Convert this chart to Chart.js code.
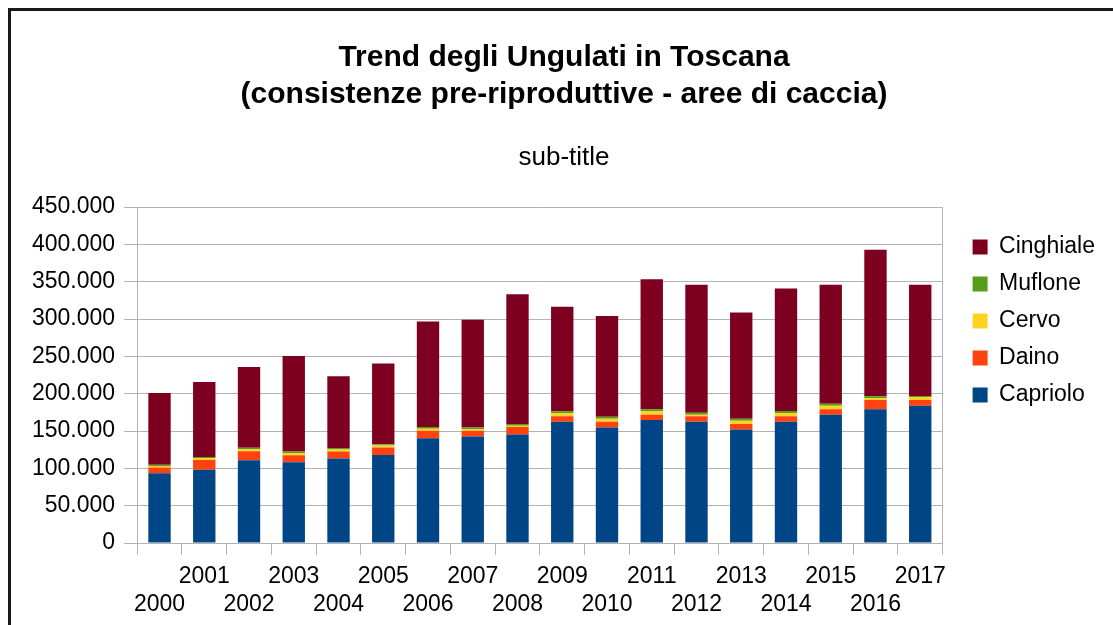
<!DOCTYPE html>
<html>
<head>
<meta charset="utf-8">
<script src="https://cdn.jsdelivr.net/npm/chart.js@4.4.1/dist/chart.umd.min.js"></script>
<style>
  html, body { margin: 0; padding: 0; background: #fff; }
  #wrap { position: relative; width: 1113px; height: 625px; }
  #frame {
    position: absolute; left: 8px; top: 8px; width: 1200px; height: 700px;
    border-top: 3px solid #1a1a1a; border-left: 3px solid #1a1a1a;
    pointer-events: none;
  }
</style>
</head>
<body>
<div id="wrap">
  <canvas id="chart" width="1113" height="625"></canvas>
  <div id="frame"></div>
</div>
<script>
// Years on the x axis
const years = ['2000', '2001', '2002', '2003', '2004', '2005', '2006', '2007', '2008',
  '2009', '2010', '2011', '2012', '2013', '2014', '2015', '2016', '2017'];

// Pre-reproductive counts per species
const capriolo = [93400, 98300, 110900, 108200, 113100, 118000, 140500, 142700, 145400,
  162500, 154800, 164700, 162500, 152100, 162500, 171900, 179100, 184000];
const daino = [7600, 13000, 12100, 9400, 9400, 9900, 9900, 7600, 9900,
  7200, 7600, 7200, 7200, 7200, 7200, 7200, 12600, 7600];
const cervo = [2200, 2200, 2700, 3100, 2700, 2700, 2700, 2200, 1800,
  4000, 4000, 4500, 2200, 4500, 4000, 4900, 2200, 3600];
const muflone = [1500, 1800, 1800, 1800, 2200, 1800, 2200, 2200, 2200,
  2700, 2700, 2700, 2700, 2700, 3100, 2700, 2700, 1800];
const cinghiale = [96300, 100500, 108200, 127900, 96000, 108200, 141400, 144500, 174100,
  140000, 135100, 174100, 171400, 142300, 164300, 159300, 196100, 149000];

// y axis ticks
const yTicks = [0, 50000, 100000, 150000, 200000, 250000, 300000, 350000, 400000, 450000];

const gridColor = '#b3b3b3';
const fontFamily = '"Liberation Sans", Arial, sans-serif';

// Italian thousands separator
const fmt = v => String(v).replace(/\B(?=(\d{3})+(?!\d))/g, '.');

const makeSet = (label, data, color) => ({
  label: label,
  data: data,
  backgroundColor: color,
  borderWidth: 0,
  barPercentage: 0.5,
  categoryPercentage: 1,
  stack: 'all',
});

new Chart(document.getElementById('chart').getContext('2d'), {
  type: 'bar',
  data: {
    labels: years,
    datasets: [
      makeSet('Capriolo', capriolo, '#004586'),
      makeSet('Daino', daino, '#ff420e'),
      makeSet('Cervo', cervo, '#ffd320'),
      makeSet('Muflone', muflone, '#579d1c'),
      makeSet('Cinghiale', cinghiale, '#7e0021'),
    ],
  },
  options: {
    responsive: false,
    animation: false,
    layout: {
      padding: { top: 0, left: 23, right: 8, bottom: 0 },
    },
    plugins: {
      title: {
        display: true,
        text: ['Trend degli Ungulati in Toscana', '(consistenze pre-riproduttive - aree di caccia)'],
        color: '#000',
        font: { family: fontFamily, size: 30, weight: 'bold', lineHeight: 1.233 },
        padding: { top: 39.5, bottom: 13 },
      },
      subtitle: {
        display: true,
        text: 'sub-title',
        color: '#000',
        font: { family: fontFamily, size: 26, lineHeight: 1.2 },
        padding: { top: 16, bottom: 33.4 },
      },
      legend: {
        position: 'right',
        align: 'start',
        fullSize: false,
        reverse: true,
        // blank title only pushes the entries down
        title: {
          display: true,
          text: ' ',
          font: { size: 10, lineHeight: 1.05 },
          padding: { top: 2, bottom: 2 },
        },
        labels: {
          boxWidth: 15,
          boxHeight: 15,
          padding: 14,
          color: '#000',
          font: { family: fontFamily, size: 23 },
        },
      },
      tooltip: { enabled: false },
    },
    scales: {
      x: {
        stacked: true,
        afterFit: axis => { axis.height -= 2; },
        grid: {
          offset: true,
          drawOnChartArea: false,
          tickLength: 12,
          color: gridColor,
        },
        border: { color: gridColor },
        ticks: {
          autoSkip: false,
          maxRotation: 0,
          padding: 8,
          color: '#000',
          font: { family: fontFamily, size: 23, lineHeight: 1.217 },
          // odd years on the first row, even years on the second
          callback: function (value, index) {
            const y = years[index];
            return index % 2 === 1 ? [y, ''] : ['', y];
          },
        },
      },
      y: {
        stacked: true,
        min: 0,
        max: 450000,
        afterBuildTicks: axis => { axis.ticks = yTicks.map(v => ({ value: v })); },
        grid: {
          color: gridColor,
          tickLength: 13,
        },
        border: { color: gridColor },
        ticks: {
          padding: 9,
          color: '#000',
          font: { family: fontFamily, size: 23 },
          callback: v => fmt(v),
        },
      },
      // empty right axis: gives the plot its right border and the gap before the legend
      edge: {
        type: 'linear',
        position: 'right',
        grid: { display: false },
        ticks: { display: false },
        border: { display: true, color: gridColor },
        afterFit: axis => { axis.width = 16; },
      },
    },
  },
});
</script>
</body>
</html>
